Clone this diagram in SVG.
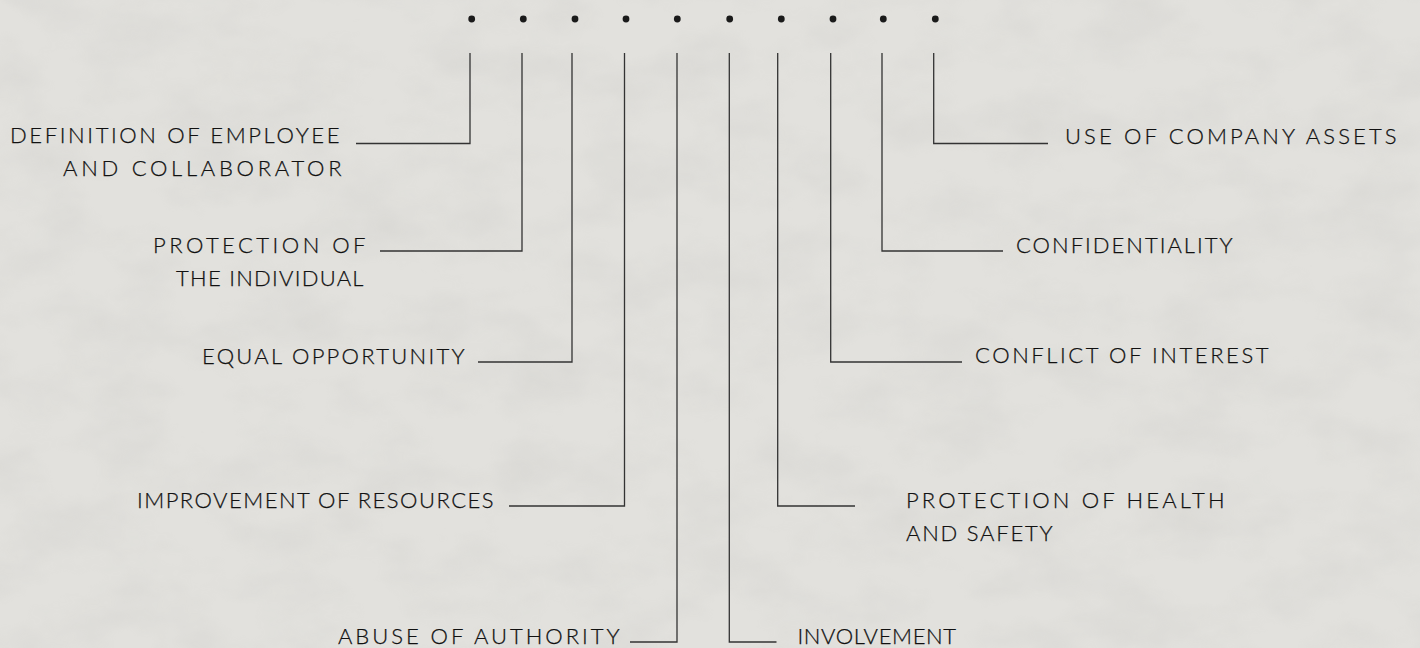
<svg xmlns="http://www.w3.org/2000/svg" width="1420" height="648" viewBox="0 0 1420 648">
<defs>
<filter id="tex" x="0" y="0" width="100%" height="100%">
<feTurbulence type="fractalNoise" baseFrequency="0.012 0.02" numOctaves="4" seed="7" result="n"/>
<feColorMatrix in="n" type="matrix" values="0 0 0 0 0.5  0 0 0 0 0.5  0 0 0 0 0.48  0 0 0 0.9 -0.35" result="m"/>
<feComposite in="m" in2="SourceGraphic" operator="in"/>
</filter>
<style>
.lbl{font-family:Lato,"Liberation Sans",sans-serif;font-weight:300;font-size:22px;fill:#111;stroke:#111;stroke-width:0.25px;letter-spacing:3.5px}
.con{fill:none;stroke:#333;stroke-width:1.3}
.dot{fill:#1a1a1a}
</style>
</defs>
<rect width="1420" height="648" fill="#e2e1dd"/>
<rect width="1420" height="648" fill="#e2e1dd" filter="url(#tex)" opacity="0.4"/>
<g id="dots">
<circle class="dot" cx="471.7" cy="19" r="3.4"/>
<circle class="dot" cx="523.3" cy="19" r="3.4"/>
<circle class="dot" cx="575" cy="19" r="3.4"/>
<circle class="dot" cx="626" cy="19" r="3.4"/>
<circle class="dot" cx="677.3" cy="19" r="3.4"/>
<circle class="dot" cx="729.7" cy="19" r="3.4"/>
<circle class="dot" cx="781.3" cy="19" r="3.4"/>
<circle class="dot" cx="833" cy="19" r="3.4"/>
<circle class="dot" cx="883.3" cy="19" r="3.4"/>
<circle class="dot" cx="935.3" cy="19" r="3.4"/>
</g>
<g id="connectors">
<path class="con" d="M470,53 V143.5 H356"/>
<path class="con" d="M522,53 V251 H380"/>
<path class="con" d="M572,53 V362 H478"/>
<path class="con" d="M624.5,53 V506 H509"/>
<path class="con" d="M677,53 V642 H630"/>
<path class="con" d="M729.3,53 V642 H776.5"/>
<path class="con" d="M777.7,53 V506 H855"/>
<path class="con" d="M830.7,53 V362 H962"/>
<path class="con" d="M882,53 V251 H1003"/>
<path class="con" d="M933.7,53 V143.5 H1048"/>
</g>
<g id="n1"><text class="lbl" x="10" y="143" textLength="333" lengthAdjust="spacing">DEFINITION OF EMPLOYEE</text><text class="lbl" x="63" y="176" textLength="282" lengthAdjust="spacing">AND COLLABORATOR</text></g>
<g id="n2"><text class="lbl" x="153" y="253" textLength="216" lengthAdjust="spacing">PROTECTION OF</text><text class="lbl" x="176" y="286" textLength="191" lengthAdjust="spacing">THE INDIVIDUAL</text></g>
<g id="n3"><text class="lbl" x="202" y="364" textLength="266" lengthAdjust="spacing">EQUAL OPPORTUNITY</text></g>
<g id="n4"><text class="lbl" x="137" y="508" textLength="360" lengthAdjust="spacing">IMPROVEMENT OF RESOURCES</text></g>
<g id="n5"><text class="lbl" x="338" y="644" textLength="285" lengthAdjust="spacing">ABUSE OF AUTHORITY</text></g>
<g id="n6"><text class="lbl" x="797.5" y="644" textLength="162" lengthAdjust="spacing">INVOLVEMENT</text></g>
<g id="n7"><text class="lbl" x="906" y="508" textLength="322" lengthAdjust="spacing">PROTECTION OF HEALTH</text><text class="lbl" x="906" y="541" textLength="150" lengthAdjust="spacing">AND SAFETY</text></g>
<g id="n8"><text class="lbl" x="975" y="363" textLength="297" lengthAdjust="spacing">CONFLICT OF INTEREST</text></g>
<g id="n9"><text class="lbl" x="1016" y="253" textLength="220" lengthAdjust="spacing">CONFIDENTIALITY</text></g>
<g id="n10"><text class="lbl" x="1065" y="144" textLength="335" lengthAdjust="spacing">USE OF COMPANY ASSETS</text></g>
</svg>
